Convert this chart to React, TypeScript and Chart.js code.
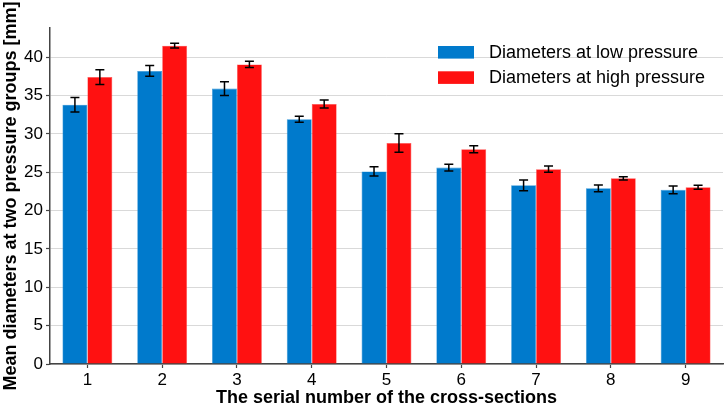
import { useEffect, useRef } from "react";
import { Chart, registerables } from "chart.js";

Chart.register(...registerables);

const sections = ["1", "2", "3", "4", "5", "6", "7", "8", "9"];
const lowPressure = [33.8, 38.2, 35.9, 31.9, 25.1, 25.6, 23.3, 22.9, 22.7];
const lowPressureErr = [0.95, 0.7, 0.9, 0.4, 0.6, 0.45, 0.7, 0.43, 0.5];
const highPressure = [37.4, 41.5, 39.05, 33.9, 28.8, 28.0, 25.4, 24.2, 23.05];
const highPressureErr = [0.96, 0.3, 0.4, 0.52, 1.2, 0.45, 0.4, 0.2, 0.26];
const errors = [lowPressureErr, highPressureErr];

const FONT = "'Liberation Sans', Arial, sans-serif";

// error bars drawn from the data via the y scale
const errorBars = {
  id: "errorBars",
  afterDatasetsDraw(chart: any) {
    const { ctx } = chart;
    const y = chart.scales.y;
    ctx.save();
    ctx.strokeStyle = "#000";
    ctx.lineWidth = 1.5;
    chart.data.datasets.forEach((ds: any, i: number) => {
      const meta = chart.getDatasetMeta(i);
      meta.data.forEach((bar: any, j: number) => {
        const v = ds.data[j];
        const e = errors[i][j];
        const top = y.getPixelForValue(v + e);
        const bot = y.getPixelForValue(v - e);
        const x = bar.x;
        ctx.beginPath();
        ctx.moveTo(x, top);
        ctx.lineTo(x, bot);
        ctx.moveTo(x - 4.5, top);
        ctx.lineTo(x + 4.5, top);
        ctx.moveTo(x - 4.5, bot);
        ctx.lineTo(x + 4.5, bot);
        ctx.stroke();
      });
    });
    ctx.restore();
  },
};

// legend inside the plot, upper right
const innerLegend = {
  id: "innerLegend",
  afterDraw(chart: any) {
    const { ctx } = chart;
    ctx.save();
    ctx.font = `18px ${FONT}`;
    ctx.textBaseline = "middle";
    chart.data.datasets.forEach((ds: any, i: number) => {
      const yTop = 46 + i * 25.3;
      ctx.fillStyle = ds.backgroundColor;
      ctx.fillRect(438, yTop, 36, 12.6);
      ctx.fillStyle = "#000";
      ctx.fillText(ds.label, 489, yTop + 7);
    });
    ctx.restore();
  },
};

export default function App() {
  const canvasRef = useRef<HTMLCanvasElement>(null);

  useEffect(() => {
    document.body.style.margin = "0";
    if (!canvasRef.current) return;
    const chart = new Chart(canvasRef.current, {
      type: "bar",
      data: {
        labels: sections,
        datasets: [
          {
            label: "Diameters at low pressure",
            data: lowPressure,
            backgroundColor: "#007acc",
            borderColor: "#3396d8",
            borderWidth: 0.6,
            categoryPercentage: 0.667,
            barPercentage: 1,
          },
          {
            label: "Diameters at high pressure",
            data: highPressure,
            backgroundColor: "#ff1111",
            borderColor: "#ff5050",
            borderWidth: 0.6,
            categoryPercentage: 0.667,
            barPercentage: 1,
          },
        ],
      },
      options: {
        animation: false,
        responsive: true,
        maintainAspectRatio: false,
        layout: { padding: { top: 28, right: 3, left: 0, bottom: 0 } },
        plugins: {
          legend: { display: false },
          tooltip: { enabled: false },
        },
        scales: {
          x: {
            afterFit: (s: any) => {
              s.height = 42;
            },
            grid: {
              offset: false,
              drawOnChartArea: false,
              tickLength: 4,
              tickColor: "#444",
              tickWidth: 1.2,
            },
            border: { color: "#444", width: 1.5 },
            ticks: { color: "#000", font: { family: FONT, size: 17 }, padding: 2 },
            title: {
              display: true,
              text: "The serial number of the cross-sections",
              color: "#000",
              font: { family: FONT, size: 18, weight: "bold" },
              padding: { top: 0, bottom: -3 },
            },
          },
          y: {
            min: 0,
            max: 43.8,
            afterFit: (s: any) => {
              s.width = 50;
            },
            grid: {
              color: "#cfcfcf",
              lineWidth: 0.8,
              borderDash: [4, 3],
              tickLength: 4,
              tickColor: "#444",
              tickWidth: 1.2,
              tickBorderDash: [],
            },
            border: { color: "#444", width: 1.5 },
            ticks: {
              stepSize: 5,
              includeBounds: false,
              color: "#000",
              font: { family: FONT, size: 17 },
              padding: 3,
            },
            title: {
              display: true,
              text: "Mean diameters at two pressure groups [mm]",
              color: "#000",
              font: { family: FONT, size: 18, weight: "bold" },
              padding: 0,
            },
          },
        },
      },
      plugins: [errorBars, innerLegend],
    });
    return () => chart.destroy();
  }, []);

  return (
    <div style={{ width: 726, height: 406, position: "relative", background: "#fff" }}>
      <canvas ref={canvasRef} />
    </div>
  );
}
